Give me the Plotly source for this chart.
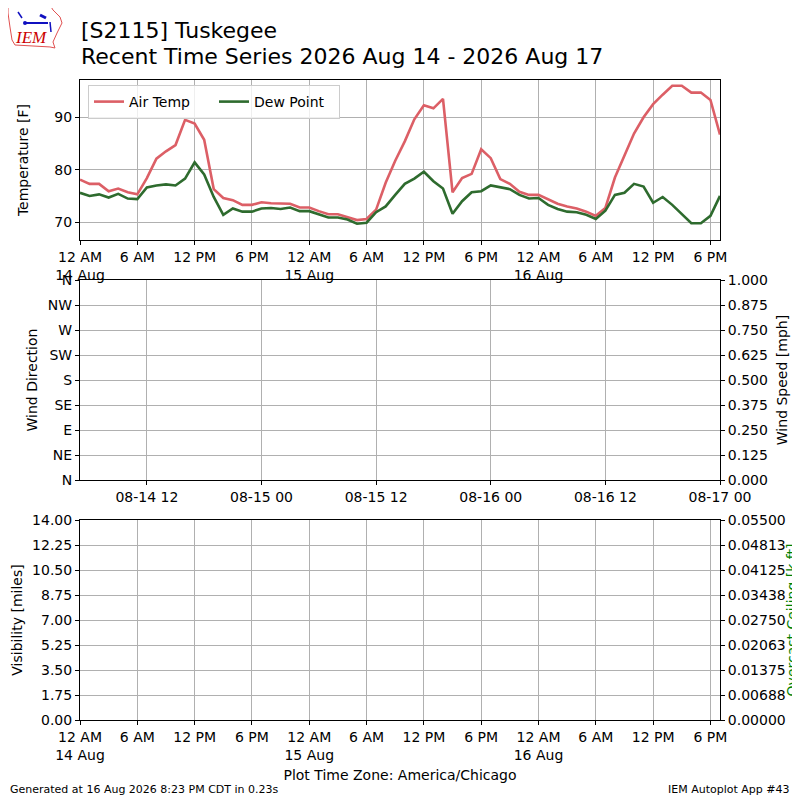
import pandas as pd
import plotly.graph_objects as go

# Hourly observations, 14 Aug 00:00 to 16 Aug 19:00 (America/Chicago)
air_temp = [
    78.1, 77.3, 77.3, 75.9, 76.4, 75.7, 75.3, 78.4, 82.1, 83.5, 84.7, 89.5,
    88.8, 85.7, 76.3, 74.6, 74.2, 73.3, 73.3, 73.8, 73.6, 73.5, 73.5, 72.8,
    72.8, 72.1, 71.5, 71.5, 71.0, 70.4, 70.6, 72.4, 77.5, 81.7, 85.4, 89.6,
    92.3, 91.7, 93.5, 75.7, 78.4, 79.2, 83.9, 82.2, 78.2, 77.3, 75.8, 75.2,
    75.2, 74.4, 73.5, 73.0, 72.6, 72.0, 71.2, 72.7, 78.5, 82.7, 86.9, 90.0,
    92.5, 94.3, 96.0, 96.0, 94.7, 94.7, 93.3, 86.7,
]
dew_point = [
    75.6, 75.0, 75.3, 74.7, 75.4, 74.5, 74.4, 76.6, 77.0, 77.2, 77.0, 78.3,
    81.4, 79.1, 74.8, 71.4, 72.6, 72.0, 72.0, 72.6, 72.7, 72.5, 72.8, 72.1,
    72.1, 71.5, 70.9, 70.9, 70.5, 69.7, 69.9, 71.9, 73.0, 75.2, 77.3, 78.3,
    79.6, 77.8, 76.4, 71.6, 74.0, 75.7, 75.9, 77.0, 76.6, 76.3, 75.2, 74.5,
    74.6, 73.3, 72.5, 72.0, 71.9, 71.4, 70.6, 72.2, 75.2, 75.6, 77.3, 76.8,
    73.7, 74.8, 73.3, 71.6, 69.8, 69.8, 71.2, 75.0,
]
times = pd.date_range("2026-08-14 00:00", periods=len(air_temp), freq="h")

# no wind / visibility / ceiling reports in the period
wind_dir = []
wind_speed = []
visibility = []
ceiling = []

local_ticks = pd.date_range("2026-08-14 00:00", "2026-08-16 18:00", freq="6h")
local_labels = [
    "12 AM<br>14 Aug", "6 AM", "12 PM", "6 PM",
    "12 AM<br>15 Aug", "6 AM", "12 PM", "6 PM",
    "12 AM<br>16 Aug", "6 AM", "12 PM", "6 PM",
]
utc_ticks = pd.date_range("2026-08-14 12:00", "2026-08-17 00:00", freq="12h")
utc_labels = ["08-14 12", "08-15 00", "08-15 12", "08-16 00", "08-16 12", "08-17 00"]

dir_ticks = [0, 45, 90, 135, 180, 225, 270, 315, 360]
dir_labels = ["N", "NE", "E", "SE", "S", "SW", "W", "NW", "N"]
speed_ticks = [0, 0.125, 0.25, 0.375, 0.5, 0.625, 0.75, 0.875, 1.0]
vis_ticks = [0, 1.75, 3.5, 5.25, 7.0, 8.75, 10.5, 12.25, 14.0]
ceil_ticks = [0, 0.006875, 0.01375, 0.020625, 0.0275, 0.034375, 0.04125, 0.048125, 0.055]
ceil_labels = ["0.00000", "0.00688", "0.01375", "0.02063", "0.02750",
               "0.03438", "0.04125", "0.04813", "0.05500"]

# the page body has an 8px margin, so the figure is 792px and shifted by 8
OFF = 8
W = 800 - OFF


def fx(p):
    return (p - OFF) / W


def fy(p):
    return 1 - (p - OFF) / W


FONT = "DejaVu Sans"
axis_style = dict(
    showline=True, linecolor="black", linewidth=1, mirror=True,
    ticks="outside", ticklen=4, tickcolor="black",
    showgrid=True, gridcolor="#b0b0b0", gridwidth=0.8, zeroline=False,
    automargin=False,
    tickfont=dict(family=FONT, size=14, color="black"),
    title_font=dict(family=FONT, size=14, color="black"),
)

fig = go.Figure()
fig.add_trace(go.Scatter(x=times, y=air_temp, name="Air Temp", mode="lines",
                         line=dict(color="#dc5f66", width=2.6)))
fig.add_trace(go.Scatter(x=times, y=dew_point, name="Dew Point", mode="lines",
                         line=dict(color="#2e6b2e", width=2.6)))
fig.add_trace(go.Scatter(x=[], y=wind_dir, xaxis="x2", yaxis="y2", showlegend=False))
fig.add_trace(go.Scatter(x=[], y=wind_speed, xaxis="x2", yaxis="y3", showlegend=False))
fig.add_trace(go.Scatter(x=[], y=visibility, xaxis="x3", yaxis="y4", showlegend=False))
fig.add_trace(go.Scatter(x=[], y=ceiling, xaxis="x3", yaxis="y5", showlegend=False))

local_range = ["2026-08-14 00:00", "2026-08-16 19:00"]
x_dom = [fx(80), fx(720)]

fig.update_layout(
    width=W, height=W,
    margin=dict(l=0, r=0, t=0, b=0, autoexpand=False),
    paper_bgcolor="white", plot_bgcolor="white",
    font=dict(family=FONT, size=14, color="black"),
    xaxis=dict(axis_style, domain=x_dom, anchor="y", range=local_range,
               type="date", tickvals=local_ticks, ticktext=local_labels),
    yaxis=dict(axis_style, domain=[fy(240), fy(80)], anchor="x", range=[66.6, 97.1],
               tickvals=[70, 80, 90], title=dict(text="Temperature [F]", standoff=22)),
    xaxis2=dict(axis_style, domain=x_dom, anchor="y2", type="date",
                range=["2026-08-14 05:00", "2026-08-17 00:00"],
                tickvals=utc_ticks, ticktext=utc_labels),
    yaxis2=dict(axis_style, domain=[fy(480), fy(280)], anchor="x2", range=[0, 360],
                tickvals=dir_ticks, ticktext=dir_labels,
                title=dict(text="Wind Direction", standoff=6)),
    yaxis3=dict(axis_style, overlaying="y2", side="right", anchor="x2",
                range=[0, 1], tickvals=speed_ticks, tickformat=".3f", showgrid=False,
                title=dict(text="Wind Speed [mph]", standoff=10)),
    xaxis3=dict(axis_style, domain=x_dom, anchor="y4", range=local_range,
                type="date", tickvals=local_ticks, ticktext=local_labels,
                title=dict(text="Plot Time Zone: America/Chicago", standoff=8)),
    yaxis4=dict(axis_style, domain=[fy(720), fy(520)], anchor="x3", range=[0, 14],
                tickvals=vis_ticks, tickformat=".2f",
                title=dict(text="Visibility [miles]", standoff=6)),
    yaxis5=dict(axis_style, overlaying="y4", side="right", anchor="x3",
                range=[0, 0.055], tickvals=ceil_ticks, ticktext=ceil_labels, showgrid=False,
                title=dict(text="Overcast Ceiling [k ft]", standoff=16,
                           font=dict(family=FONT, size=14, color="green"))),
    legend=dict(x=fx(88), y=fy(85), xanchor="left", yanchor="top",
                orientation="h", bgcolor="rgba(255,255,255,0.8)",
                bordercolor="#cccccc", borderwidth=1,
                font=dict(family=FONT, size=14), entrywidth=80),
    showlegend=True,
)

# two title lines
fig.add_annotation(text="[S2115] Tuskegee", xref="paper", yref="paper",
                   x=fx(79), y=fy(30), xanchor="left", yanchor="middle", showarrow=False,
                   font=dict(family=FONT, size=22))
fig.add_annotation(text="Recent Time Series 2026 Aug 14 - 2026 Aug 17",
                   xref="paper", yref="paper",
                   x=fx(79), y=fy(57), xanchor="left", yanchor="middle", showarrow=False,
                   font=dict(family=FONT, size=22))

# footer notes
fig.add_annotation(text="Generated at 16 Aug 2026 8:23 PM CDT in 0.23s",
                   xref="paper", yref="paper", x=fx(8), y=fy(789),
                   xanchor="left", yanchor="middle", showarrow=False,
                   font=dict(family=FONT, size=11))
fig.add_annotation(text="IEM Autoplot App #43",
                   xref="paper", yref="paper", x=fx(792), y=fy(789),
                   xanchor="right", yanchor="middle", showarrow=False,
                   font=dict(family=FONT, size=11))

# rough IEM logo
outline = [(8, 5), (50, 5), (53, 10), (60, 17), (62, 23), (57, 33), (53, 42),
           (55, 48), (50, 47), (15, 45), (12, 40), (10, 27), (8, 13)]
path = "M " + " L ".join(f"{fx(x):.4f},{fy(y):.4f}" for x, y in outline) + " Z"
fig.add_shape(type="path", path=path, xref="paper", yref="paper",
              line=dict(color="#e05050", width=1))
blue = "#1010c0"
for (x0, y0, x1, y1, w) in [(25, 23, 48, 23, 2), (18, 12, 22, 18, 1.5),
                            (40, 15, 46, 18, 3), (50, 22, 51, 32, 1.5)]:
    fig.add_shape(type="line", xref="paper", yref="paper",
                  x0=fx(x0), y0=fy(y0), x1=fx(x1), y1=fy(y1),
                  line=dict(color=blue, width=w))
fig.add_shape(type="circle", xref="paper", yref="paper",
              x0=fx(23), y0=fy(21), x1=fx(27), y1=fy(25),
              fillcolor=blue, line=dict(color=blue, width=0))
fig.add_annotation(text="<i>IEM</i>", xref="paper", yref="paper",
                   x=fx(30.5), y=fy(38), xanchor="center", yanchor="middle",
                   showarrow=False,
                   font=dict(family="Liberation Serif", size=17, color="#cc0000"))

fig.write_html("out.html")
